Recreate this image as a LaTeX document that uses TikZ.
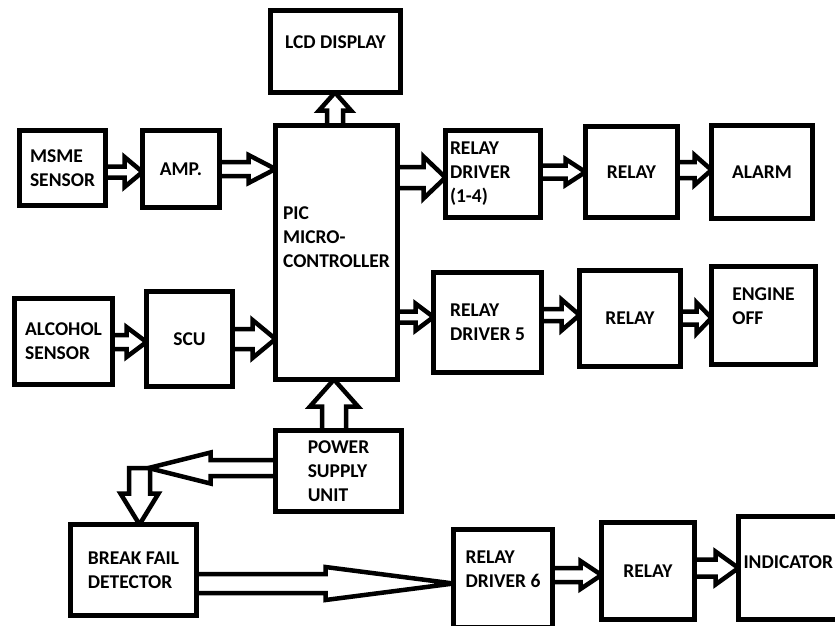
\documentclass[tikz,border=0pt]{standalone}
\usepackage{fontspec}
\setmainfont{Carlito}
\usetikzlibrary{calc}
\usetikzlibrary{backgrounds}

\begin{document}
\begin{tikzpicture}[
  x=1pt, y=-1pt,
  font=\fontsize{19.5}{24}\selectfont\bfseries,
  box/.style={draw, line width=5pt, fill=white, inner sep=0pt, outer sep=0pt, align=left},
  txt/.style={align=left, inner sep=0pt},
  blk/.style n args={3}{draw, line width=4.5pt, fill=white, line join=miter,
    to path={(\tikztostart) coordinate (bs) (\tikztotarget) coordinate (bt)
      ($(bt)!#3pt!(bs)$) coordinate (bb)
      ($(bs)!#1pt!90:(bt)$) -- ($(bb)!#1pt!-90:(bs)$) -- ($(bb)!#2pt!-90:(bs)$)
      -- (bt) -- ($(bb)!#2pt!90:(bs)$) -- ($(bb)!#1pt!90:(bs)$)
      -- ($(bs)!#1pt!-90:(bt)$) -- cycle}}
]
\useasboundingbox (0,0) rectangle (835,625);
\clip (0,0) rectangle (835,625);

% inputs
\node[box, minimum width=86pt, minimum height=75pt] (msme) at (62.5,168) {MSME\\SENSOR};
\node[box, minimum width=77pt, minimum height=77pt] (amp) at (181,169) {AMP.};
\node[box, minimum width=98pt, minimum height=86pt] (alcohol) at (63.5,341.5) {ALCOHOL\\SENSOR};
\node[box, minimum width=86pt, minimum height=95pt] (scu) at (189.5,339) {SCU};

% controller
\node[box, minimum width=130pt, minimum height=82pt,
      label={[txt, yshift=9.5pt]center:LCD DISPLAY}] (lcd) at (335.5,51.5) {};
\node[box, minimum width=122pt, minimum height=254pt,
      label={[txt, yshift=15pt]center:{PIC\\MICRO-\\CONTROLLER}}] (pic) at (336.5,252.5) {};
\node[box, minimum width=126pt, minimum height=81pt] (psu) at (338.5,471) {POWER\\SUPPLY\\UNIT};

% outputs
\node[box, minimum width=95pt, minimum height=87pt, text width=86pt] (rd14) at (493,174) {RELAY\\DRIVER\\(1-4)};
\node[box, minimum width=92pt, minimum height=91pt] (relay1) at (631.5,172) {RELAY};
\node[box, minimum width=101pt, minimum height=93pt] (alarm) at (762,172) {ALARM};
\node[box, minimum width=108pt, minimum height=100pt] (rd5) at (487.5,322.5) {RELAY\\DRIVER 5};
\node[box, minimum width=101pt, minimum height=96pt] (relay2) at (630,318.5) {RELAY};
\node[box, minimum width=104pt, minimum height=98pt,
      label={[txt, yshift=9pt]center:{ENGINE\\OFF}}] (engine) at (763.5,315.5) {};

% brake line
\node[box, minimum width=126pt, minimum height=91pt] (bfd) at (133.5,570) {BREAK FAIL\\DETECTOR};
\node[box, minimum width=99pt, minimum height=98pt,
      label={[txt, yshift=9.5pt]center:{RELAY\\DRIVER 6}}] (rd6) at (503,578.5) {};
\node[box, minimum width=93pt, minimum height=97pt] (relay3) at (648,571) {RELAY};
\node[box, minimum width=111.5pt, minimum height=103pt,
      label={[txt, yshift=6pt, xshift=-6pt]center:INDICATOR}] (indicator) at (794.25,568) {};
\coordinate (fork) at (139.5,468);

\begin{scope}[on background layer]
\draw[blk={5.5}{15}{18}] (msme.east |- 0,172) to (amp.west |- 0,172);
\draw[blk={7}{14}{27}] (amp.east |- 0,169) to (pic.west |- 0,169);
\draw[blk={7}{15}{20}] (alcohol.east |- 0,342) to (scu.west |- 0,342);
\draw[blk={10}{19}{23}] (scu.east |- 0,339) to (pic.west |- 0,339);
\draw[blk={8}{16}{18}] (pic.north -| 335,0) to (lcd.south -| 335,0);
\draw[blk={10.5}{21}{22}] (pic.east |- 0,177.5) to (rd14.west |- 0,177.5);
\draw[blk={6.5}{13}{20}] (rd14.east |- 0,172) to (relay1.west |- 0,172);
\draw[blk={8}{15}{17}] (relay1.east |- 0,170) to (alarm.west |- 0,170);
\draw[blk={5.5}{13.5}{18}] (pic.east |- 0,317) to (rd5.west |- 0,317);
\draw[blk={6}{15.5}{18}] (rd5.east |- 0,315) to (relay2.west |- 0,315);
\draw[blk={6.5}{15.5}{15}] (relay2.east |- 0,318) to (engine.west |- 0,318);
\draw[blk={12}{24}{27}] (psu.north -| 334,0) to (pic.south -| 334,0);
\draw[blk={8}{15.5}{62}] (psu.west |- fork) to ([xshift=9pt]fork);
\draw[blk={10.5}{19}{31}] (fork) to (fork |- bfd.north);
\draw[blk={9.5}{16.5}{128}] (bfd.east |- 0,583.5) to (rd6.west |- 0,583.5);
\draw[blk={7}{14}{21}] (rd6.east |- 0,575) to (relay3.west |- 0,575);
\draw[blk={8.5}{16.5}{23}] (relay3.east |- 0,568) to (indicator.west |- 0,568);
\end{scope}
\end{tikzpicture}
\end{document}
